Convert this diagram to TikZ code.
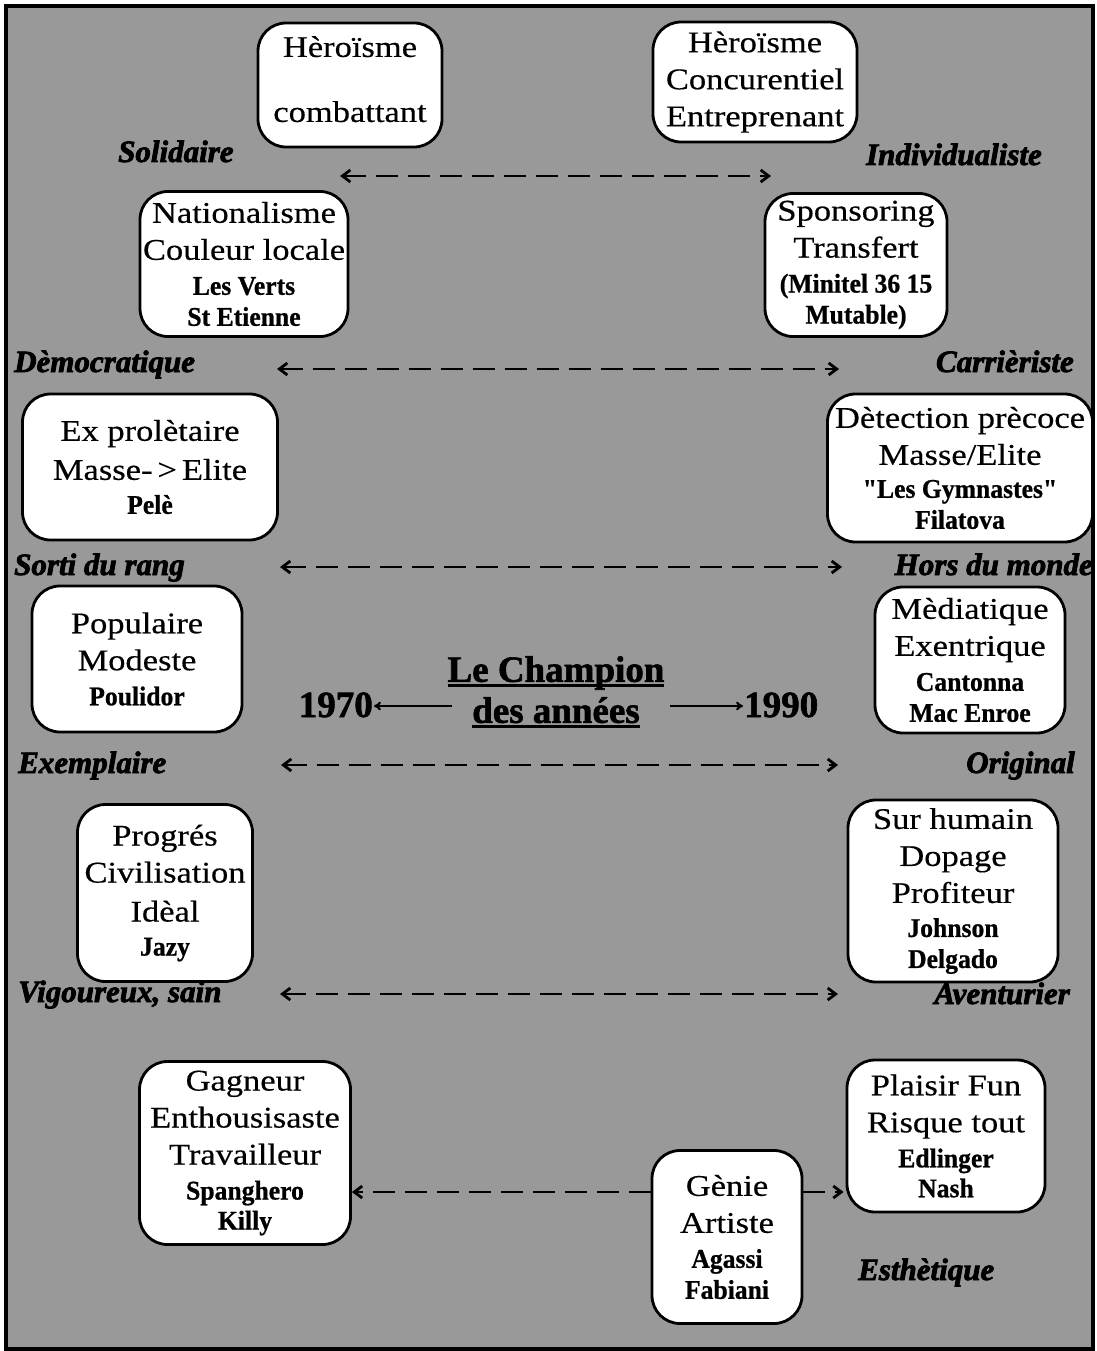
\documentclass[tikz,border=0pt]{standalone}
\usepackage{fontspec}
\setmainfont{Liberation Serif}[FakeStretch=1.15, FakeBold=0.4]
\newfontfamily\nmfont{Liberation Serif}[FakeStretch=0.95, FakeBold=0.8, Ligatures=TeXOff]
\newfontfamily\titlefont{Liberation Serif}[FakeBold=1.6]
\newfontfamily\lblfont{Liberation Serif}[FakeBold=2.5]
\usetikzlibrary{arrows.meta}
\newcommand\pname[1]{{\nmfont\fontsize{27}{30}\selectfont\bfseries #1}}
\newsavebox\ulbox
\newcommand\ulin[1]{\sbox\ulbox{#1}\rlap{\rule[-5pt]{\wd\ulbox}{2.6pt}}\usebox\ulbox}
\begin{document}
\begin{tikzpicture}[x=1pt,y=-1pt,
  box/.style={draw, line width=2.8pt, fill=white, rounded corners=28pt, align=center,
    inner sep=0pt, font=\fontsize{30}{37}\selectfont},
  lbl/.style={font=\lblfont\bfseries\itshape\fontsize{31}{31}\selectfont, inner sep=0pt},
  darr/.style={line width=2.8pt, dash pattern=on 22pt off 10pt,
    {Straight Barb[length=8pt,width=12pt]}-{Straight Barb[length=8pt,width=12pt]}},
  rarr/.style={line width=2.8pt, dash pattern=on 22pt off 10pt,
    -{Straight Barb[length=8pt,width=12pt]}},
  yr/.style={font=\titlefont\bfseries\fontsize{37}{41}\selectfont, inner sep=1pt},
  sarr/.style={line width=2.2pt, -{To[length=7pt,width=9pt]}},
]
\useasboundingbox (0,0) rectangle (1096,1351);
\fill[white] (0,0) rectangle (1096,1351);
\draw[line width=3.5pt, fill=black!40] (6,6) rectangle (1093,1349);

% boxes
\node[box, minimum width=184pt, minimum height=124pt] (b1) at (350,85) {Hèroïsme\\[28pt]combattant\\[-25pt]{}};
\node[box, minimum width=204pt, minimum height=120pt] (b2) at (755,82) {Hèroïsme\\Concurentiel\\Entreprenant};
\node[box, minimum width=208pt, minimum height=145pt] (b3) at (244,264) {Nationalisme\\Couleur locale\\[-2pt]\pname{Les Verts}\\[-6pt]\pname{St Etienne}};
\node[box, minimum width=182pt, minimum height=143pt] (b4) at (856,265) {Sponsoring\\Transfert\\[-2pt]\pname{(Minitel 36 15}\\[-6pt]\pname{Mutable)}};
\node[box, minimum width=255pt, minimum height=146pt] (b5) at (150,467) {Ex prolètaire\\[2pt]Masse-\,>\,Elite\\[-3pt]\pname{Pelè}};
\node[box, minimum width=265pt, minimum height=148pt] (b6) at (960,468) {Dètection prècoce\\Masse/Elite\\[-4pt]\pname{"Les Gymnastes"}\\[-6pt]\pname{Filatova}};
\node[box, minimum width=210pt, minimum height=146pt] (b7) at (137,659) {Populaire\\Modeste\\[-2pt]\pname{Poulidor}};
\node[box, minimum width=190pt, minimum height=146pt] (b8) at (970,660) {Mèdiatique\\Exentrique\\[-2pt]\pname{Cantonna}\\[-6pt]\pname{Mac Enroe}};
\node[box, minimum width=175pt, minimum height=177pt] (b9) at (165,893) {Progrés\\Civilisation\\[2pt]Idèal\\[-3pt]\pname{Jazy}};
\node[box, minimum width=210pt, minimum height=182pt] (b10) at (953,891) {Sur humain\\Dopage\\Profiteur\\[-3pt]\pname{Johnson}\\[-6pt]\pname{Delgado}};
\node[box, minimum width=211pt, minimum height=183pt] (b11) at (245,1153) {Gagneur\\Enthousisaste\\Travailleur\\[-2pt]\pname{Spanghero}\\[-7pt]\pname{Killy}};
\node[box, minimum width=150pt, minimum height=173pt] (b12) at (727,1237) {Gènie\\Artiste\\[-2pt]\pname{Agassi}\\[-6pt]\pname{Fabiani}};
\node[box, minimum width=198pt, minimum height=152pt] (b13) at (946,1136) {Plaisir Fun\\Risque tout\\[-2pt]\pname{Edlinger}\\[-7pt]\pname{Nash}};

% labels
\node[lbl, anchor=base west] (l1) at (118,162) {Solidaire};
\node[lbl, anchor=base east] (l2) at (1042,165) {Individualiste};
\node[lbl, anchor=base west] (l3) at (14,372) {Dèmocratique};
\node[lbl, anchor=base east] (l4) at (1074,372) {Carrièriste};
\node[lbl, anchor=base west] (l5) at (14,575) {Sorti du rang};
\node[lbl, anchor=base east] (l6) at (1093,575) {Hors du monde};
\node[lbl, anchor=base west] (l7) at (18,773) {Exemplaire};
\node[lbl, anchor=base east] (l8) at (1075,773) {Original};
\node[lbl, anchor=base west] (l9) at (18,1002) {Vigoureux, sain};
\node[lbl, anchor=base east] (l10) at (1070,1004) {Aventurier};
\node[lbl, anchor=base west] (l11) at (858,1280) {Esthètique};

% dashed double arrows
\coordinate (a1l) at (340,176);  \coordinate (a1r) at (771,176);
\coordinate (a2l) at (277,369);  \coordinate (a2r) at (839,369);
\coordinate (a3l) at (280,567);  \coordinate (a3r) at (842,567);
\coordinate (a4l) at (281,765);  \coordinate (a4r) at (838,765);
\coordinate (a5l) at (280,994);  \coordinate (a5r) at (838,994);
\draw[darr] (a1l) -- (a1r);
\draw[darr] (a2l) -- (a2r);
\draw[darr] (a3l) -- (a3r);
\draw[darr] (a4l) -- (a4r);
\draw[darr] (a5l) -- (a5r);

\coordinate (lvl) at (0,1192);
\draw[rarr] (b12.west |- lvl) -- (b11.east |- lvl);
\draw[rarr] (b12.east |- lvl) -- ([xshift=-2pt]b13.west |- lvl);

% centre
\node[font=\titlefont\bfseries\fontsize{37}{41}\selectfont, align=center, inner sep=0pt] (title) at (556,692)
  {\ulin{Le Champion}\\\ulin{des années}};
\node[yr, anchor=base east] (y70) at (374,717) {1970};
\node[yr, anchor=base west] (y90) at (743,717) {1990};
\coordinate (c70) at (452,706);
\coordinate (c90) at (670,706);
\draw[sarr] (c70) -- (y70.east |- c70);
\draw[sarr] (c90) -- (y90.west |- c90);
\end{tikzpicture}
\end{document}
